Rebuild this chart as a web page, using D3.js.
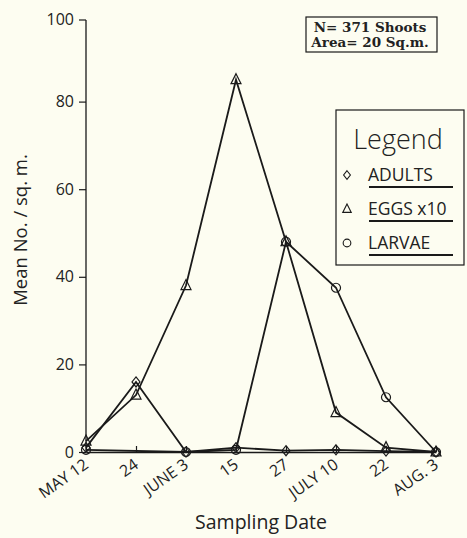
<!DOCTYPE html>
<html>
<head>
<meta charset="utf-8">
<script src="https://cdn.jsdelivr.net/npm/d3@7"></script>
<style>
  body { margin: 0; background: #fdfdf1; }
  svg { display: block; }
  text { font-family: "Open Sans", sans-serif; fill: #222; }
</style>
</head>
<body>
<svg id="chart" width="467" height="538"></svg>
<script>
// sampling dates (two-line groups collapse to one label each)
var dates = ['MAY 12', '24', 'JUNE 3', '15', '27', 'JULY 10', '22', 'AUG. 3'];
var adults = [1, 16, 0, 1, 0.3, 0.5, 0.2, 0];
var eggs = [2.5, 13, 38, 85, 48, 9, 1, 0];
var larvae = [0.5, null, 0, 0.5, 48, 37.5, 12.5, 0];
var yTicks = [0, 20, 40, 60, 80, 100];
var legendItems = ['ADULTS', 'EGGS x10', 'LARVAE'];
var noteLines = ['N= 371 Shoots', 'Area= 20 Sq.m.'];

var svg = d3.select('#chart');
var ink = '#1a1a1a';

var x = d3.scalePoint()
  .domain(dates)
  .range([86, 436]);

var y = d3.scaleLinear()
  .domain([0, 100])
  .range([452, 14]);

// y axis
var yAxis = svg.append('g')
  .attr('transform', 'translate(86,0)')
  .call(d3.axisLeft(y).tickValues(yTicks).tickSize(7).tickPadding(5));
yAxis.select('.domain').attr('d', 'M0,' + y(0) + 'V' + 20).attr('stroke', ink).attr('stroke-width', 1.3);
yAxis.selectAll('.tick line').attr('stroke', ink).attr('stroke-width', 1.2);
yAxis.selectAll('.tick text')
  .style('font-family', '"Open Sans", sans-serif')
  .style('font-size', '16px')
  .attr('fill', ink);
// the top tick sits on the end of the axis line
yAxis.selectAll('.tick').filter(d => d === 100).attr('transform', 'translate(0,20)');

// x axis
var xAxis = svg.append('g')
  .attr('transform', 'translate(0,' + y(0) + ')')
  .call(d3.axisBottom(x).tickSize(-6).tickSizeOuter(0));
xAxis.select('.domain').attr('stroke', ink).attr('stroke-width', 1.3);
xAxis.selectAll('.tick line').attr('stroke', ink).attr('stroke-width', 1.2);
xAxis.selectAll('.tick text')
  .style('font-family', '"Open Sans", sans-serif')
  .style('font-size', '16px')
  .attr('fill', ink)
  .attr('text-anchor', 'end')
  .attr('dy', null)
  .attr('y', 0)
  .attr('transform', 'translate(3,15) rotate(-35)');

// lines
var line = d3.line()
  .x(d => x(dates[d.i]))
  .y(d => y(d.v));

var diamond = 'M0,-5L4,0L0,5L-4,0Z';
var triangle = 'M0,-6L5,4L-5,4Z';
var circle = d3.symbol().type(d3.symbolCircle).size(64)();

// missing values are skipped and the neighbours joined
function drawSeries (data, shape) {
  var pts = data.map((d, i) => ({ v: d, i: i })).filter(d => d.v != null);
  svg.append('path')
    .attr('d', line(pts))
    .attr('fill', 'none')
    .attr('stroke', ink)
    .attr('stroke-width', 1.8);
  svg.selectAll(null)
    .data(pts)
    .enter().append('path')
      .attr('transform', d => 'translate(' + x(dates[d.i]) + ',' + y(d.v) + ')')
      .attr('d', shape)
      .attr('fill', 'none')
      .attr('stroke', ink)
      .attr('stroke-width', 1.2);
}

drawSeries(larvae, circle);
drawSeries(adults, diamond);
drawSeries(eggs, triangle);

// axis titles
svg.append('text')
  .attr('transform', 'translate(27,230) rotate(-90)')
  .attr('text-anchor', 'middle')
  .style('font-size', '18.5px')
  .text('Mean No. / sq. m.');

svg.append('text')
  .attr('x', 261)
  .attr('y', 529)
  .attr('text-anchor', 'middle')
  .style('font-size', '19.5px')
  .text('Sampling Date');

// note box
svg.append('rect')
  .attr('x', 306).attr('y', 17)
  .attr('width', 131).attr('height', 35)
  .attr('fill', 'none')
  .attr('stroke', ink)
  .attr('stroke-width', 1.2);
svg.selectAll(null)
  .data(noteLines)
  .enter().append('text')
    .attr('x', 370)
    .attr('y', (d, i) => 32 + i * 15)
    .attr('text-anchor', 'middle')
    .style('font-family', '"DejaVu Serif", serif')
    .style('font-weight', 'bold')
    .style('font-size', '13.5px')
    .text(d => d);

// legend
svg.append('rect')
  .attr('x', 336).attr('y', 110)
  .attr('width', 128).attr('height', 155)
  .attr('fill', 'none')
  .attr('stroke', ink)
  .attr('stroke-width', 1.2);
svg.append('text')
  .attr('x', 398)
  .attr('y', 149)
  .attr('text-anchor', 'middle')
  .style('font-size', '27px')
  .style('font-weight', 300)
  .text('Legend');

var legendShapes = [diamond, triangle, circle];
var lg = svg.selectAll('.lg')
  .data(legendItems)
  .enter().append('g')
    .attr('class', 'lg')
    .attr('transform', (d, i) => 'translate(0,' + (175 + i * 34) + ')');
lg.append('path')
  .attr('transform', 'translate(347,0) scale(0.85)')
  .attr('d', (d, i) => legendShapes[i])
  .attr('fill', 'none')
  .attr('stroke', ink)
  .attr('stroke-width', 1.3);
lg.append('text')
  .attr('x', 368)
  .attr('y', 6)
  .style('font-size', '17.5px')
  .text(d => d);
lg.append('line')
  .attr('x1', 369).attr('x2', 453)
  .attr('y1', 12).attr('y2', 12)
  .attr('stroke', ink)
  .attr('stroke-width', 1.8);
</script>
</body>
</html>
